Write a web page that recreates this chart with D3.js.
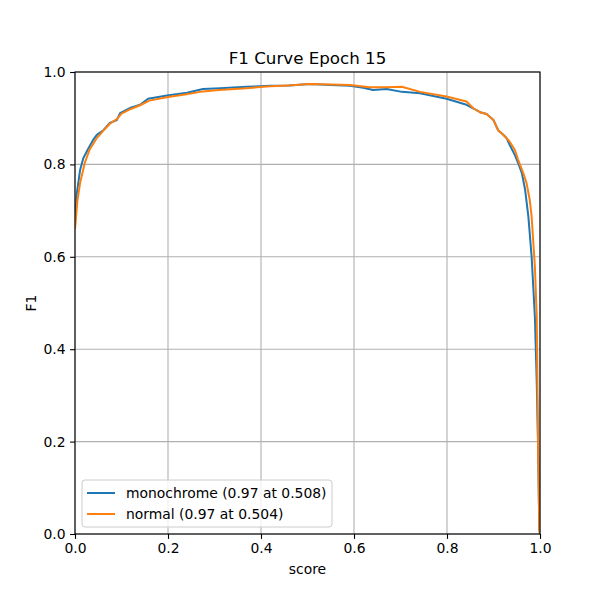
<!DOCTYPE html>
<html>
<head>
<meta charset="utf-8">
<script src="https://cdn.jsdelivr.net/npm/d3@7"></script>
<style>
  body { margin: 0; background: #fff; }
  svg { font-family: "DejaVu Sans", sans-serif; }
</style>
</head>
<body>
<svg id="chart" width="600" height="600"></svg>
<script>
const title = "F1 Curve Epoch 15";
const xTicks = [0, 0.2, 0.4, 0.6, 0.8, 1.0];
const yTicks = [0, 0.2, 0.4, 0.6, 0.8, 1.0];
const seriesNames = ["monochrome (0.97 at 0.508)", "normal (0.97 at 0.504)"];
const seriesColors = ["#1f77b4", "#ff7f0e"];

const scoreMono = [0, 0.004, 0.011, 0.018, 0.029, 0.039, 0.047, 0.061, 0.075, 0.090, 0.097, 0.118, 0.140, 0.157, 0.198, 0.241, 0.275, 0.312, 0.369, 0.42, 0.46, 0.505, 0.55, 0.591, 0.62, 0.641, 0.67, 0.703, 0.742, 0.799, 0.842, 0.857, 0.871, 0.885, 0.9, 0.910, 0.921, 0.928, 0.935, 0.946, 0.953, 0.961, 0.968, 0.975, 0.982, 0.989, 0.993, 0.996, 0.9985, 1.0];
const f1Mono = [0.673, 0.738, 0.788, 0.814, 0.835, 0.853, 0.864, 0.874, 0.890, 0.896, 0.911, 0.922, 0.929, 0.942, 0.949, 0.955, 0.963, 0.965, 0.968, 0.970, 0.971, 0.974, 0.972, 0.970, 0.966, 0.961, 0.963, 0.957, 0.954, 0.942, 0.929, 0.921, 0.913, 0.909, 0.896, 0.874, 0.864, 0.857, 0.842, 0.820, 0.803, 0.781, 0.745, 0.687, 0.600, 0.470, 0.327, 0.182, 0.01, 0];

const scoreNormal = [0, 0.005, 0.011, 0.021, 0.031, 0.047, 0.06, 0.075, 0.09, 0.1, 0.12, 0.14, 0.16, 0.2, 0.24, 0.269, 0.31, 0.369, 0.42, 0.46, 0.504, 0.55, 0.591, 0.634, 0.67, 0.703, 0.742, 0.799, 0.842, 0.857, 0.871, 0.885, 0.9, 0.910, 0.921, 0.928, 0.935, 0.946, 0.953, 0.964, 0.971, 0.978, 0.982, 0.989, 0.993, 0.996, 0.9985, 1.0];
const f1Normal = [0.66, 0.72, 0.760, 0.803, 0.831, 0.857, 0.872, 0.888, 0.898, 0.910, 0.920, 0.928, 0.938, 0.946, 0.952, 0.957, 0.961, 0.965, 0.969, 0.971, 0.974, 0.973, 0.972, 0.967, 0.967, 0.968, 0.957, 0.947, 0.936, 0.921, 0.913, 0.909, 0.896, 0.874, 0.864, 0.857, 0.849, 0.831, 0.810, 0.781, 0.76, 0.723, 0.687, 0.579, 0.47, 0.182, 0.01, 0];

const series = [
  { name: seriesNames[0], color: seriesColors[0], pts: scoreMono.map((s, i) => [s, f1Mono[i]]) },
  { name: seriesNames[1], color: seriesColors[1], pts: scoreNormal.map((s, i) => [s, f1Normal[i]]) }
];

const pL = 75, pR = 540, pT = 72, pB = 534;
const svg = d3.select("#chart");
const x = d3.scaleLinear().domain([0, 1]).range([pL, pR]);
const y = d3.scaleLinear().domain([0, 1]).range([pB, pT]);

// grid
const g = svg.append("g");
g.selectAll("line.vg").data(xTicks).join("line")
  .attr("x1", d => x(d)).attr("x2", d => x(d)).attr("y1", pT).attr("y2", pB)
  .attr("stroke", "#b0b0b0").attr("stroke-width", 1.1);
g.selectAll("line.hg").data(yTicks).join("line")
  .attr("y1", d => y(d)).attr("y2", d => y(d)).attr("x1", pL).attr("x2", pR)
  .attr("stroke", "#b0b0b0").attr("stroke-width", 1.1);

// lines
const line = d3.line().x(d => x(d[0])).y(d => y(d[1]));
svg.append("clipPath").attr("id", "clip").append("rect")
  .attr("x", pL).attr("y", pT - 2).attr("width", pR - pL).attr("height", pB - pT + 4);
series.forEach(s => {
  svg.append("path").datum(s.pts).attr("d", line)
    .attr("fill", "none").attr("stroke", s.color).attr("stroke-width", 2)
    .attr("stroke-linejoin", "round").attr("clip-path", "url(#clip)");
});

// axes
const fmt = d3.format(".1f");
const xAxis = svg.append("g").attr("transform", `translate(0,${pB})`)
  .call(d3.axisBottom(x).tickValues(xTicks).tickFormat(fmt).tickSizeOuter(0).tickSize(4.9).tickPadding(4.5));
const yAxis = svg.append("g").attr("transform", `translate(${pL},0)`)
  .call(d3.axisLeft(y).tickValues(yTicks).tickFormat(fmt).tickSizeOuter(0).tickSize(4.9).tickPadding(4.5));
[xAxis, yAxis].forEach(a => {
  a.select(".domain").remove();
  a.selectAll("text").attr("font-size", 13.9).attr("fill", "#000").attr("font-family", "DejaVu Sans");
  a.selectAll("line").attr("stroke", "#000").attr("stroke-width", 1.1);
});

// frame
svg.append("rect").attr("x", pL).attr("y", pT).attr("width", pR - pL).attr("height", pB - pT)
  .attr("fill", "none").attr("stroke", "#000").attr("stroke-width", 1.1);

// labels
svg.append("text").attr("x", (pL + pR) / 2).attr("y", 64).attr("text-anchor", "middle")
  .attr("font-size", 16.7).text(title);
svg.append("text").attr("x", (pL + pR) / 2).attr("y", 574).attr("text-anchor", "middle")
  .attr("font-size", 13.9).text("score");
svg.append("text").attr("transform", `translate(36,${(pT + pB) / 2}) rotate(-90)`)
  .attr("text-anchor", "middle").attr("font-size", 13.9).text("F1");

// legend
const lg = svg.append("g");
lg.append("rect").attr("x", 82).attr("y", 480).attr("width", 250).attr("height", 47).attr("rx", 3)
  .attr("fill", "#fff").attr("fill-opacity", 0.8).attr("stroke", "#cccccc").attr("stroke-width", 1);
series.forEach((s, i) => {
  const yy = 493 + i * 21;
  lg.append("line").attr("x1", 87).attr("x2", 115).attr("y1", yy).attr("y2", yy)
    .attr("stroke", s.color).attr("stroke-width", 2);
  lg.append("text").attr("x", 126).attr("y", yy + 5).attr("font-size", 13.9).text(s.name);
});
</script>
</body>
</html>
